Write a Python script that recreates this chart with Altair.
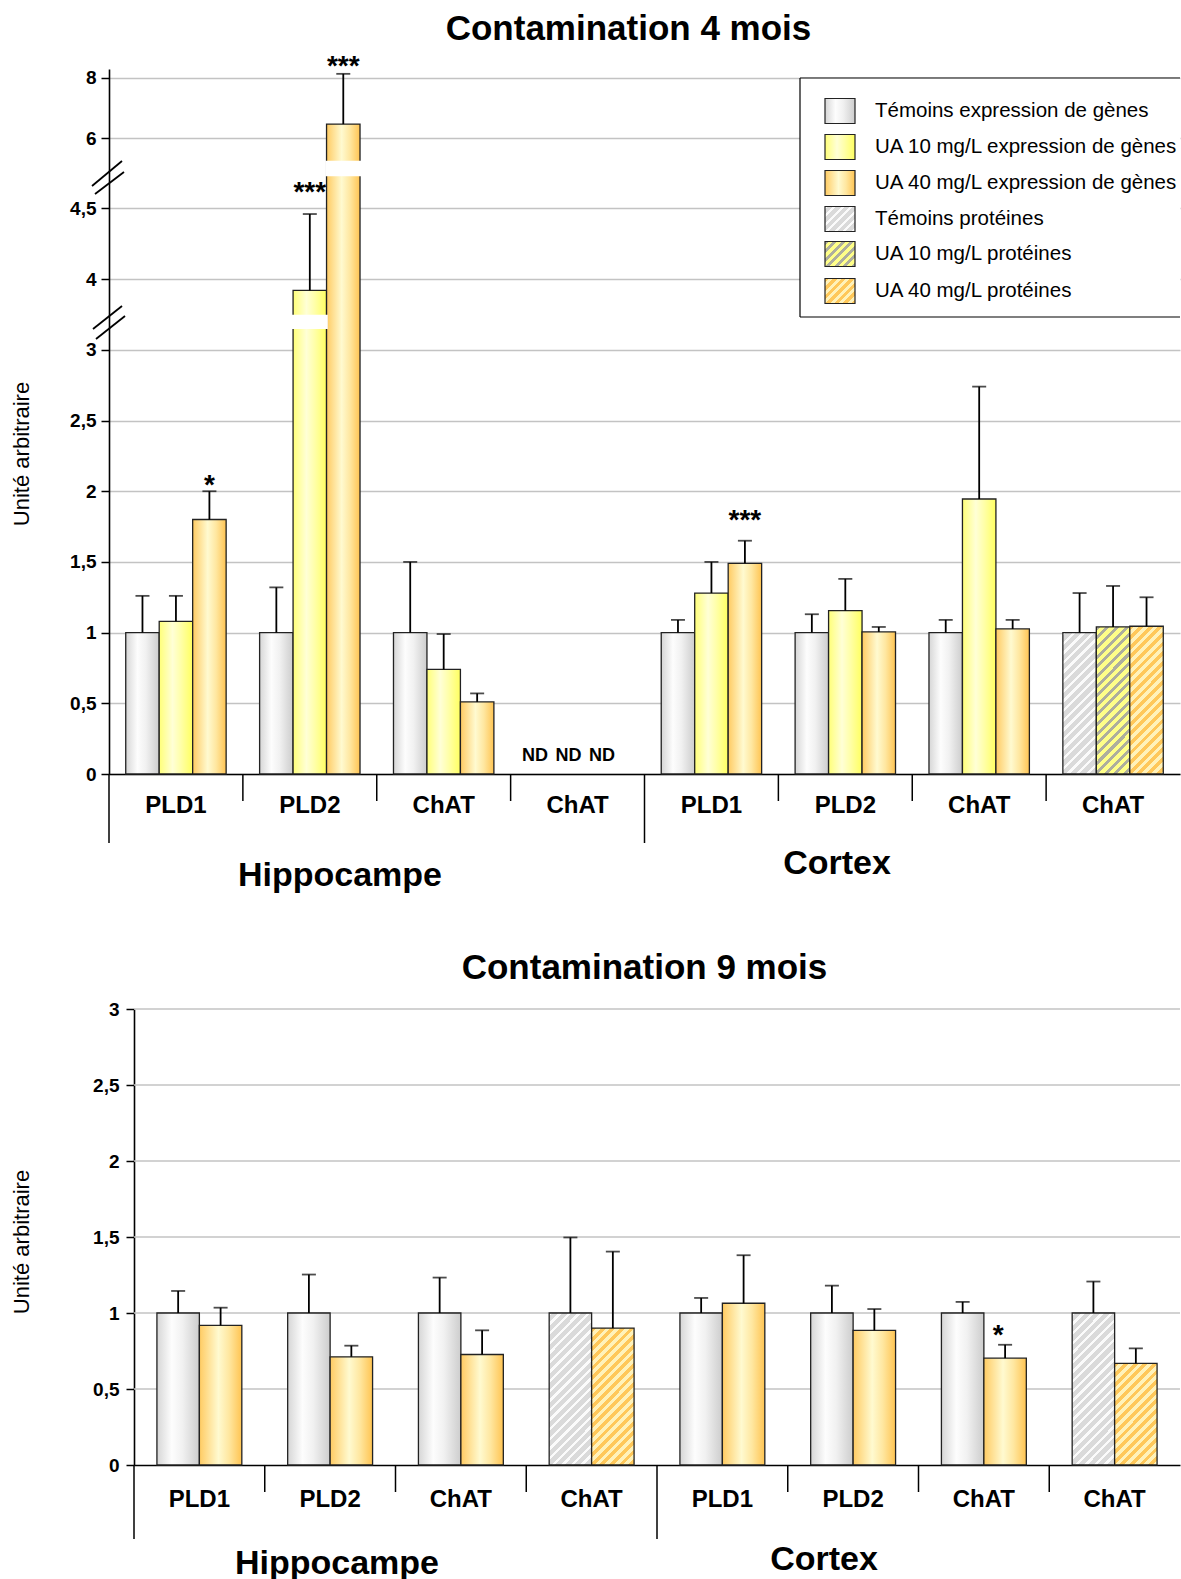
import math
import altair as alt
import pandas as pd

FONT = "Liberation Sans"

# ---------------- data ----------------
groups = ["H1", "H2", "H3", "H4", "C1", "C2", "C3", "C4"]
group_names = ["PLD1", "PLD2", "ChAT", "ChAT", "PLD1", "PLD2", "ChAT", "ChAT"]
protein_groups = ["H4", "C4"]

# Contamination 4 mois (T = témoins, 10 = UA 10 mg/L, 40 = UA 40 mg/L)
doses_4 = ["T", "10", "40"]
val4_T = [1.00, 1.00, 1.00, None, 1.00, 1.00, 1.00, 1.00]
val4_10 = [1.08, 3.92, 0.74, None, 1.28, 1.155, 1.945, 1.04]
val4_40 = [1.80, 6.47, 0.51, None, 1.49, 1.005, 1.026, 1.045]
err4_T = [0.26, 0.32, 0.50, None, 0.09, 0.13, 0.09, 0.28]
err4_10 = [0.18, 0.54, 0.25, None, 0.22, 0.225, 0.795, 0.29]
err4_40 = [0.20, 1.66, 0.06, None, 0.16, 0.035, 0.064, 0.205]
nd4_group = ["H4", "H4", "H4"]
nd4_dose = ["T", "10", "40"]
stars4_group = ["H1", "H2", "H2", "C1"]
stars4_dose = ["40", "10", "40", "40"]
stars4_text = ["*", "***", "***", "***"]
stars4_pos = [2.095, 4.665, 8.61, 1.844]
# broken y axis (value breakpoints) and white cuts on bars crossing a break
ybreak4 = [0, 3.19, 3.689, 4.722, 8.29]
ytick4 = [0, 0.5, 1, 1.5, 2, 2.5, 3, 4, 4.5, 6, 8]
cut4_group = ["H2", "H2"]
cut4_dose = ["10", "40"]
cut4_lo = [3.156, 4.79]
cut4_hi = [3.738, 5.22]

# Contamination 9 mois
doses_9 = ["T", "40"]
val9_T = [1.00, 1.00, 1.00, 1.00, 1.00, 1.00, 1.00, 1.00]
val9_40 = [0.919, 0.712, 0.727, 0.901, 1.064, 0.886, 0.703, 0.668]
err9_T = [0.145, 0.253, 0.233, 0.497, 0.099, 0.18, 0.073, 0.207]
err9_40 = [0.116, 0.073, 0.159, 0.503, 0.316, 0.14, 0.088, 0.099]
stars9_group = ["C3"]
stars9_dose = ["40"]
stars9_text = ["*"]
stars9_pos = [0.90]
ytick9 = [0, 0.5, 1, 1.5, 2, 2.5, 3]

legend_labels = [
    "Témoins expression de gènes",
    "UA 10 mg/L expression de gènes",
    "UA 40 mg/L expression de gènes",
    "Témoins protéines",
    "UA 10 mg/L protéines",
    "UA 40 mg/L protéines",
]
legend_dose = ["T", "10", "40", "T", "10", "40"]
legend_kind = ["gene", "gene", "gene", "prot", "prot", "prot"]


def make_df(doses, vals, errs):
    rows = []
    for d, vs, es in zip(doses, vals, errs):
        for g, v, e in zip(groups, vs, es):
            rows.append({"group": g, "dose": d, "value": v, "err": e,
                         "kind": "prot" if g in protein_groups else "gene"})
    return pd.DataFrame(rows)


df4 = make_df(doses_4, [val4_T, val4_10, val4_40], [err4_T, err4_10, err4_40])
df9 = make_df(doses_9, [val9_T, val9_40], [err9_T, err9_40])

# ---------------- styles ----------------
def hgrad(cols):
    stops = [alt.GradientStop(offset=o, color=c) for o, c in cols]
    return alt.LinearGradient(gradient="linear", x1=0, y1=0, x2=1, y2=0, stops=stops)


GENE_FILL = {
    "T": hgrad([(0, "#d6d6d6"), (0.35, "#fdfdfd"), (0.6, "#f1f1f1"), (1, "#cdcdcd")]),
    "10": hgrad([(0, "#ffff78"), (0.4, "#ffffd6"), (0.65, "#ffffa8"), (1, "#ffff60")]),
    "40": hgrad([(0, "#ffcb62"), (0.45, "#fffad0"), (0.7, "#ffe7a0"), (1, "#ffc452")]),
}
PROT_STYLE = {  # base, stripe, stripe fraction
    "T": ("#dadada", "#fbfbfb", 0.35),
    "10": ("#ffff88", "#aeae9e", 0.42),
    "40": ("#fff2ba", "#ffc85a", 0.5),
}


def stripe_grad(w, h, dose, period=6.8):
    base, stripe, frac = PROT_STYLE[dose]
    k = (w + h) / (w * w + h * h)
    n = (w + h) / math.sqrt(2) / period
    stops = []
    i = 0
    while i / n < 1:
        a = i / n
        b = min((i + frac) / n, 1)
        c = min((i + 1) / n, 1)
        stops += [(a, stripe), (b, stripe), (b, base), (c, base)]
        i += 1
    return alt.LinearGradient(
        gradient="linear", x1=0, y1=0, x2=round(w * k, 5), y2=round(h * k, 5),
        stops=[alt.GradientStop(offset=round(o, 5), color=c) for o, c in stops])


BAR_STROKE = dict(stroke="#222222", strokeWidth=1.3)
label_expr = "{" + ",".join(f"'{g}':'{n}'" for g, n in zip(groups, group_names)) + "}[datum.value]"
one = pd.DataFrame({"k": [0]})


def xaxis(pad):
    return alt.Axis(labelExpr=label_expr, labelFont=FONT, labelFontSize=24,
                    labelFontWeight="bold", labelColor="black", labelPadding=pad,
                    ticks=False, tickSize=0, domainColor="black", domainWidth=1.6,
                    labelAngle=0, grid=False)


def text_layer(txt, x, y, size, weight="bold", angle=0, align="center"):
    return alt.Chart(one).mark_text(
        text=txt, font=FONT, fontSize=size, fontWeight=weight, angle=angle,
        align=align, baseline="middle", color="black"
    ).encode(x=alt.value(x), y=alt.value(y))


def rule_layer(x, y, x2=None, y2=None, color="black", width=1.6):
    enc = dict(x=alt.value(x), y=alt.value(y))
    if x2 is not None:
        enc["x2"] = alt.value(x2)
    if y2 is not None:
        enc["y2"] = alt.value(y2)
    return alt.Chart(one).mark_rule(color=color, strokeWidth=width).encode(**enc)


def build_panel(df, doses, W, H, xscale, xoscale, yscale, yaxis, px_per_unit, bar_w,
                stars, nd, cuts, seps, pad, grid_rules, grid_x0):
    def X(**kw):
        return alt.X("group:N", scale=xscale, axis=xaxis(pad), title=None, **kw)

    xo = alt.XOffset("dose:N", scale=xoscale)

    def Y(field):
        return alt.Y(f"{field}:Q", scale=yscale, axis=yaxis, title=None)

    layers = []
    if grid_rules is not None:
        layers.append(alt.Chart(pd.DataFrame({"value": grid_rules})).mark_rule(
            color="#c3c3c3", strokeWidth=1.3).encode(
            y=Y("value"), x=alt.value(grid_x0), x2=alt.value(W)))
    for d in doses:
        layers.append(alt.Chart(df).transform_filter(
            f"datum.kind == 'gene' && datum.dose == '{d}' && isValid(datum.value)"
        ).mark_bar(fill=GENE_FILL[d], **BAR_STROKE).encode(x=X(), xOffset=xo, y=Y("value")))
    prot = df[(df["kind"] == "prot") & df["value"].notna()]
    for r in prot.itertuples():
        g = stripe_grad(bar_w, r.value * px_per_unit, r.dose)
        layers.append(alt.Chart(df).transform_filter(
            f"datum.group == '{r.group}' && datum.dose == '{r.dose}'"
        ).mark_bar(fill=g, **BAR_STROKE).encode(x=X(), xOffset=xo, y=Y("value")))
    if cuts is not None:
        layers.append(alt.Chart(cuts).mark_bar(fill="white", stroke="white", strokeWidth=2.5).encode(
            x=X(), xOffset=xo, y=Y("lo"), y2="hi:Q"))
    eb = alt.Chart(df).transform_filter("isValid(datum.value)").transform_calculate(
        top="datum.value + datum.err")
    layers.append(eb.mark_rule(color="black", strokeWidth=1.8).encode(
        x=X(), xOffset=xo, y=Y("value"), y2="top:Q"))
    layers.append(eb.mark_tick(color="black", thickness=1.8, size=14).encode(
        x=X(), xOffset=xo, y=Y("top")))
    layers.append(alt.Chart(stars[0]).mark_text(
        font=FONT, fontSize=28, fontWeight="bold", baseline="middle", dy=8, dx=stars[1],
        color="black").encode(x=X(), xOffset=xo, y=Y("pos"), text="label:N"))
    if nd is not None:
        layers.append(alt.Chart(nd).mark_text(
            font=FONT, fontSize=18, fontWeight="bold", baseline="middle", dx=-9,
            color="black").encode(x=X(), xOffset=xo, y=alt.value(H - 18), text=alt.value("ND")))
    short_sep, long_sep = seps
    layers.append(alt.Chart(pd.DataFrame({"group": [g for g in groups if g not in ("H1", "C1")]}))
                  .mark_rule(color="black", strokeWidth=1.5)
                  .encode(x=X(bandPosition=0), y=alt.value(H), y2=alt.value(H + short_sep)))
    layers.append(alt.Chart(pd.DataFrame({"group": ["H1", "C1"]}))
                  .mark_rule(color="black", strokeWidth=1.5)
                  .encode(x=X(bandPosition=0), y=alt.value(H), y2=alt.value(H + long_sep)))
    return layers


# ---------------- top panel (4 mois) ----------------
W = 1071
H4 = 705
xs4 = alt.Scale(domain=groups, paddingInner=0, paddingOuter=0)
xos4 = alt.Scale(domain=doses_4, paddingInner=0, paddingOuter=0.5)
ys4 = alt.Scale(domain=ybreak4, range=[705, 254, 254, 108, 0], nice=False, zero=False)
ya4 = alt.Axis(values=ytick4, labelExpr="replace(format(datum.value, '~g'), '.', ',')",
               grid=True, gridColor="#c3c3c3", gridWidth=1.3, domainColor="black",
               domainWidth=1.6, tickColor="black", tickWidth=1.5, tickSize=8,
               labelPadding=5, labelFont=FONT, labelFontSize=19, labelFontWeight="bold",
               labelColor="black")
stars4 = pd.DataFrame({"group": stars4_group, "dose": stars4_dose, "label": stars4_text, "pos": stars4_pos})
nd4 = pd.DataFrame({"group": nd4_group, "dose": nd4_dose})
cuts4 = pd.DataFrame({"group": cut4_group, "dose": cut4_dose, "lo": cut4_lo, "hi": cut4_hi})

top_layers = build_panel(df4, doses_4, W, H4, xs4, xos4, ys4, ya4, 141.3, 33.5,
                         (stars4, 0), nd4, cuts4, (27, 69), 19, None, 0)
# axis break marks
top_layers += [
    rule_layer(-17, 117, 13, 92, width=1.8), rule_layer(-14, 125, 15, 103, width=1.8),
    rule_layer(-16, 260, 13, 237, width=1.8), rule_layer(-13, 270, 16, 247, width=1.8),
]
top_layers.append(text_layer("Unité arbitraire", -87, 385, 22, weight="normal", angle=270))
top_layers.append(text_layer("Hippocampe", 231, 807, 34))
top_layers.append(text_layer("Cortex", 728, 795, 34))
# legend
top_layers.append(alt.Chart(one).mark_rect(fill="white").encode(
    x=alt.value(691), x2=alt.value(W), y=alt.value(9), y2=alt.value(248)))
top_layers += [rule_layer(691, 9, x2=W, width=1.2), rule_layer(691, 248, x2=W, width=1.2),
               rule_layer(691, 9, y2=248, width=1.2)]
leg_y = [42, 78, 114, 150, 185, 222]
for lab, d, kd, cy in zip(legend_labels, legend_dose, legend_kind, leg_y):
    fill = GENE_FILL[d] if kd == "gene" else stripe_grad(30, 25, d, period=6.0)
    top_layers.append(alt.Chart(one).mark_rect(fill=fill, stroke="#222222", strokeWidth=1.2).encode(
        x=alt.value(716), x2=alt.value(746), y=alt.value(cy - 12.5), y2=alt.value(cy + 12.5)))
    top_layers.append(text_layer(lab, 766, cy, 20.5, weight="normal", align="left"))

top = alt.layer(*top_layers).properties(
    width=W, height=H4,
    title=alt.TitleParams("Contamination 4 mois", font=FONT, fontSize=35, fontWeight="bold",
                          color="black", anchor="middle", frame="group", offset=6, dx=-16))

# ---------------- bottom panel (9 mois) ----------------
H9 = 456
xs9 = alt.Scale(domain=groups, range=[25, W], paddingInner=0, paddingOuter=0)
xos9 = alt.Scale(domain=doses_9, paddingInner=0, paddingOuter=0.54)
ys9 = alt.Scale(domain=[0, 3], nice=False, zero=False)
ya9 = alt.Axis(values=ytick9, labelExpr="replace(format(datum.value, '~g'), '.', ',')",
               grid=False, offset=-25, domainColor="black", domainWidth=1.6,
               tickColor="black", tickWidth=1.5, tickSize=8, labelPadding=7,
               labelFont=FONT, labelFontSize=19, labelFontWeight="bold", labelColor="black")
stars9 = pd.DataFrame({"group": stars9_group, "dose": stars9_dose, "label": stars9_text, "pos": stars9_pos})

bot_layers = build_panel(df9, doses_9, W, H9, xs9, xos9, ys9, ya9, 152.0, 42.5,
                         (stars9, -7), None, None, (27, 74), 22, ytick9[1:], 25)
bot_layers.append(text_layer("Unité arbitraire", -87, 233, 22, weight="normal", angle=270))
bot_layers.append(text_layer("Hippocampe", 228, 555, 34))
bot_layers.append(text_layer("Cortex", 715, 551, 34))

bottom = alt.layer(*bot_layers).properties(
    width=W, height=H9,
    title=alt.TitleParams("Contamination 9 mois", font=FONT, fontSize=35, fontWeight="bold",
                          color="black", anchor="middle", frame="group", offset=14, dx=0))

chart = alt.vconcat(top, bottom, spacing=58).resolve_scale(
    xOffset="independent", x="independent", y="independent"
).properties(
    padding={"left": 11, "top": 12, "right": 0, "bottom": 0}
).configure(font=FONT).configure_view(strokeWidth=0)

chart.save("out.html", embed_options={"renderer": "svg", "actions": False})
